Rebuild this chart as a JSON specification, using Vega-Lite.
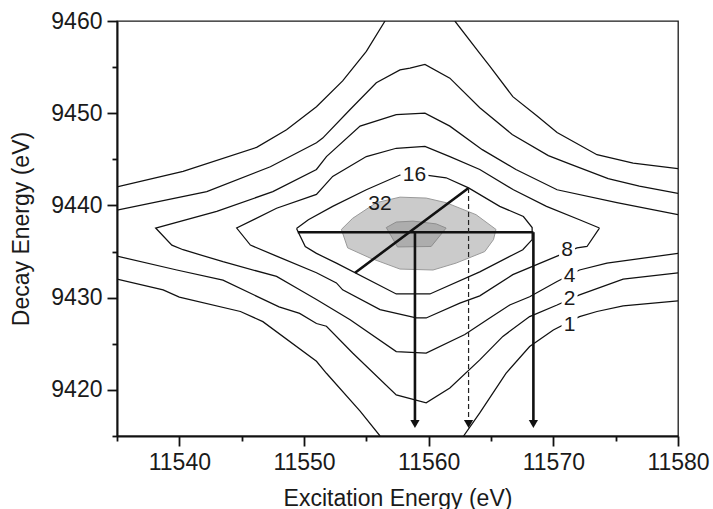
{
  "$schema": "https://vega.github.io/schema/vega-lite/v6.json",
  "width": 561,
  "height": 415,
  "autosize": {"type": "none"},
  "padding": {"left": 117, "top": 21, "right": 35, "bottom": 73},
  "background": "white",
  "config": {"view": {"stroke": "#1a1a1a", "strokeWidth": 1.3}, "font": "Liberation Sans"},
  "datasets": {
    "fills": [
      {"c": "32", "o": 0, "x": 11553.0, "y": 9437.4},
      {"c": "32", "o": 1, "x": 11553.9, "y": 9438.6},
      {"c": "32", "o": 2, "x": 11555.8, "y": 9440.3},
      {"c": "32", "o": 3, "x": 11557.7, "y": 9440.9},
      {"c": "32", "o": 4, "x": 11559.8, "y": 9440.8},
      {"c": "32", "o": 5, "x": 11561.4, "y": 9440.3},
      {"c": "32", "o": 6, "x": 11563.8, "y": 9439.0},
      {"c": "32", "o": 7, "x": 11565.4, "y": 9437.4},
      {"c": "32", "o": 8, "x": 11565.2, "y": 9436.3},
      {"c": "32", "o": 9, "x": 11564.5, "y": 9435.0},
      {"c": "32", "o": 10, "x": 11562.2, "y": 9433.75},
      {"c": "32", "o": 11, "x": 11560.35, "y": 9433.0},
      {"c": "32", "o": 12, "x": 11557.7, "y": 9433.1},
      {"c": "32", "o": 13, "x": 11555.3, "y": 9434.3},
      {"c": "32", "o": 14, "x": 11553.5, "y": 9435.4},
      {"c": "64", "o": 0, "x": 11556.6, "y": 9437.6},
      {"c": "64", "o": 1, "x": 11557.4, "y": 9438.2},
      {"c": "64", "o": 2, "x": 11558.75, "y": 9438.3},
      {"c": "64", "o": 3, "x": 11560.6, "y": 9438.0},
      {"c": "64", "o": 4, "x": 11561.4, "y": 9437.55},
      {"c": "64", "o": 5, "x": 11560.2, "y": 9435.55},
      {"c": "64", "o": 6, "x": 11557.5, "y": 9435.5}
    ],
    "contours": [
      {"c": "1a", "o": 0, "x": 11535, "y": 9442.0},
      {"c": "1a", "o": 1, "x": 11540.3, "y": 9443.7},
      {"c": "1a", "o": 2, "x": 11546.2, "y": 9446.3},
      {"c": "1a", "o": 3, "x": 11548.6, "y": 9448.2},
      {"c": "1a", "o": 4, "x": 11551.0, "y": 9450.7},
      {"c": "1a", "o": 5, "x": 11553.1, "y": 9453.5},
      {"c": "1a", "o": 6, "x": 11555.0, "y": 9456.7},
      {"c": "1a", "o": 7, "x": 11556.5, "y": 9460},
      {"c": "1b", "o": 0, "x": 11562.1, "y": 9460},
      {"c": "1b", "o": 1, "x": 11564.1, "y": 9456.5},
      {"c": "1b", "o": 2, "x": 11564.9, "y": 9455.1},
      {"c": "1b", "o": 3, "x": 11566.75, "y": 9451.8},
      {"c": "1b", "o": 4, "x": 11568.7, "y": 9449.7},
      {"c": "1b", "o": 5, "x": 11570.3, "y": 9447.9},
      {"c": "1b", "o": 6, "x": 11573.5, "y": 9445.5},
      {"c": "1b", "o": 7, "x": 11576.4, "y": 9444.6},
      {"c": "1b", "o": 8, "x": 11580, "y": 9444.0},
      {"c": "1c", "o": 0, "x": 11535, "y": 9432.0},
      {"c": "1c", "o": 1, "x": 11538.7, "y": 9430.85},
      {"c": "1c", "o": 2, "x": 11540.0, "y": 9430.06},
      {"c": "1c", "o": 3, "x": 11544.9, "y": 9428.5},
      {"c": "1c", "o": 4, "x": 11546.7, "y": 9427.4},
      {"c": "1c", "o": 5, "x": 11551.0, "y": 9423.1},
      {"c": "1c", "o": 6, "x": 11551.8, "y": 9421.8},
      {"c": "1c", "o": 7, "x": 11554.5, "y": 9417.7},
      {"c": "1c", "o": 8, "x": 11556.1, "y": 9415},
      {"c": "1d", "o": 0, "x": 11562.8, "y": 9415},
      {"c": "1d", "o": 1, "x": 11564.1, "y": 9417.5},
      {"c": "1d", "o": 2, "x": 11566.2, "y": 9421.8},
      {"c": "1d", "o": 3, "x": 11568.1, "y": 9424.7},
      {"c": "1d", "o": 4, "x": 11570.0, "y": 9426.5},
      {"c": "1d", "o": 5, "x": 11572.1, "y": 9427.95},
      {"c": "1d", "o": 6, "x": 11573.5, "y": 9428.5},
      {"c": "1d", "o": 7, "x": 11575.6, "y": 9429.1},
      {"c": "1d", "o": 8, "x": 11580, "y": 9429.65},
      {"c": "2a", "o": 0, "x": 11535, "y": 9439.5},
      {"c": "2a", "o": 1, "x": 11542.2, "y": 9441.5},
      {"c": "2a", "o": 2, "x": 11547.3, "y": 9444.2},
      {"c": "2a", "o": 3, "x": 11551.0, "y": 9446.8},
      {"c": "2a", "o": 4, "x": 11551.5, "y": 9447.3},
      {"c": "2a", "o": 5, "x": 11553.7, "y": 9450.4},
      {"c": "2a", "o": 6, "x": 11555.8, "y": 9453.3},
      {"c": "2a", "o": 7, "x": 11557.7, "y": 9454.7},
      {"c": "2a", "o": 8, "x": 11558.5, "y": 9454.9},
      {"c": "2a", "o": 9, "x": 11559.7, "y": 9455.3},
      {"c": "2a", "o": 10, "x": 11561.7, "y": 9453.8},
      {"c": "2a", "o": 11, "x": 11564.1, "y": 9450.6},
      {"c": "2a", "o": 12, "x": 11566.7, "y": 9447.7},
      {"c": "2a", "o": 13, "x": 11569.6, "y": 9445.4},
      {"c": "2a", "o": 14, "x": 11571.3, "y": 9444.5},
      {"c": "2a", "o": 15, "x": 11574.4, "y": 9442.9},
      {"c": "2a", "o": 16, "x": 11576.9, "y": 9442.1},
      {"c": "2a", "o": 17, "x": 11580, "y": 9441.3},
      {"c": "2b", "o": 0, "x": 11535, "y": 9434.5},
      {"c": "2b", "o": 1, "x": 11539.8, "y": 9433.0},
      {"c": "2b", "o": 2, "x": 11543.5, "y": 9431.9},
      {"c": "2b", "o": 3, "x": 11548.0, "y": 9429.0},
      {"c": "2b", "o": 4, "x": 11549.65, "y": 9428.3},
      {"c": "2b", "o": 5, "x": 11551.0, "y": 9427.2},
      {"c": "2b", "o": 6, "x": 11551.8, "y": 9426.9},
      {"c": "2b", "o": 7, "x": 11553.9, "y": 9424.0},
      {"c": "2b", "o": 8, "x": 11557.4, "y": 9419.45},
      {"c": "2b", "o": 9, "x": 11559.8, "y": 9418.6},
      {"c": "2b", "o": 10, "x": 11561.7, "y": 9420.2},
      {"c": "2b", "o": 11, "x": 11564.1, "y": 9423.25},
      {"c": "2b", "o": 12, "x": 11565.95, "y": 9425.8},
      {"c": "2b", "o": 13, "x": 11568.1, "y": 9427.95},
      {"c": "2b", "o": 14, "x": 11570.3, "y": 9429.2},
      {"c": "2b", "o": 15, "x": 11572.1, "y": 9430.3},
      {"c": "2b", "o": 16, "x": 11575.6, "y": 9432.0},
      {"c": "2b", "o": 17, "x": 11580, "y": 9432.7},
      {"c": "4", "o": 0, "x": 11580, "y": 9439.0},
      {"c": "4", "o": 1, "x": 11575.1, "y": 9440.3},
      {"c": "4", "o": 2, "x": 11570.3, "y": 9441.7},
      {"c": "4", "o": 3, "x": 11567.0, "y": 9443.9},
      {"c": "4", "o": 4, "x": 11564.3, "y": 9446.05},
      {"c": "4", "o": 5, "x": 11561.7, "y": 9448.6},
      {"c": "4", "o": 6, "x": 11559.7, "y": 9450.0},
      {"c": "4", "o": 7, "x": 11557.4, "y": 9449.85},
      {"c": "4", "o": 8, "x": 11554.5, "y": 9448.6},
      {"c": "4", "o": 9, "x": 11551.8, "y": 9445.3},
      {"c": "4", "o": 10, "x": 11551.0, "y": 9443.9},
      {"c": "4", "o": 11, "x": 11547.5, "y": 9441.5},
      {"c": "4", "o": 12, "x": 11543.0, "y": 9439.35},
      {"c": "4", "o": 13, "x": 11538.1, "y": 9437.55},
      {"c": "4", "o": 14, "x": 11539.4, "y": 9435.7},
      {"c": "4", "o": 15, "x": 11540.3, "y": 9435.2},
      {"c": "4", "o": 16, "x": 11543.5, "y": 9433.9},
      {"c": "4", "o": 17, "x": 11547.8, "y": 9432.3},
      {"c": "4", "o": 18, "x": 11549.65, "y": 9430.85},
      {"c": "4", "o": 19, "x": 11551.0, "y": 9429.8},
      {"c": "4", "o": 20, "x": 11553.7, "y": 9427.6},
      {"c": "4", "o": 21, "x": 11557.4, "y": 9424.15},
      {"c": "4", "o": 22, "x": 11559.8, "y": 9424.0},
      {"c": "4", "o": 23, "x": 11562.9, "y": 9426.0},
      {"c": "4", "o": 24, "x": 11564.9, "y": 9427.8},
      {"c": "4", "o": 25, "x": 11566.5, "y": 9429.2},
      {"c": "4", "o": 26, "x": 11568.1, "y": 9430.1},
      {"c": "4", "o": 27, "x": 11570.3, "y": 9431.75},
      {"c": "4", "o": 28, "x": 11572.1, "y": 9433.0},
      {"c": "4", "o": 29, "x": 11574.3, "y": 9433.75},
      {"c": "4", "o": 30, "x": 11580, "y": 9434.8},
      {"c": "8", "o": 0, "x": 11573.7, "y": 9437.55},
      {"c": "8", "o": 1, "x": 11572.1, "y": 9438.45},
      {"c": "8", "o": 2, "x": 11569.45, "y": 9439.9},
      {"c": "8", "o": 3, "x": 11566.8, "y": 9441.7},
      {"c": "8", "o": 4, "x": 11564.1, "y": 9443.9},
      {"c": "8", "o": 5, "x": 11561.7, "y": 9445.3},
      {"c": "8", "o": 6, "x": 11559.7, "y": 9446.4},
      {"c": "8", "o": 7, "x": 11557.4, "y": 9446.2},
      {"c": "8", "o": 8, "x": 11555.0, "y": 9445.3},
      {"c": "8", "o": 9, "x": 11552.3, "y": 9443.15},
      {"c": "8", "o": 10, "x": 11551.0, "y": 9441.2},
      {"c": "8", "o": 11, "x": 11547.8, "y": 9439.7},
      {"c": "8", "o": 12, "x": 11544.6, "y": 9437.55},
      {"c": "8", "o": 13, "x": 11545.7, "y": 9435.7},
      {"c": "8", "o": 14, "x": 11547.8, "y": 9434.5},
      {"c": "8", "o": 15, "x": 11551.0, "y": 9432.7},
      {"c": "8", "o": 16, "x": 11552.6, "y": 9431.6},
      {"c": "8", "o": 17, "x": 11553.1, "y": 9430.85},
      {"c": "8", "o": 18, "x": 11556.1, "y": 9428.7},
      {"c": "8", "o": 19, "x": 11559.0, "y": 9427.8},
      {"c": "8", "o": 20, "x": 11559.8, "y": 9427.8},
      {"c": "8", "o": 21, "x": 11562.5, "y": 9429.4},
      {"c": "8", "o": 22, "x": 11564.1, "y": 9430.2},
      {"c": "8", "o": 23, "x": 11566.75, "y": 9432.5},
      {"c": "8", "o": 24, "x": 11570.3, "y": 9434.5},
      {"c": "8", "o": 25, "x": 11571.9, "y": 9435.4},
      {"c": "8", "o": 26, "x": 11572.7, "y": 9435.55},
      {"c": "8", "o": 27, "x": 11573.7, "y": 9437.55},
      {"c": "16", "o": 0, "x": 11549.4, "y": 9437.5},
      {"c": "16", "o": 1, "x": 11550.35, "y": 9438.45},
      {"c": "16", "o": 2, "x": 11552.3, "y": 9439.9},
      {"c": "16", "o": 3, "x": 11555.0, "y": 9441.7},
      {"c": "16", "o": 4, "x": 11557.7, "y": 9443.3},
      {"c": "16", "o": 5, "x": 11559.8, "y": 9443.3},
      {"c": "16", "o": 6, "x": 11561.4, "y": 9443.0},
      {"c": "16", "o": 7, "x": 11563.2, "y": 9441.9},
      {"c": "16", "o": 8, "x": 11565.7, "y": 9439.9},
      {"c": "16", "o": 9, "x": 11567.6, "y": 9438.8},
      {"c": "16", "o": 10, "x": 11568.3, "y": 9437.6},
      {"c": "16", "o": 11, "x": 11568.3, "y": 9436.3},
      {"c": "16", "o": 12, "x": 11567.55, "y": 9435.2},
      {"c": "16", "o": 13, "x": 11564.1, "y": 9432.8},
      {"c": "16", "o": 14, "x": 11560.1, "y": 9430.4},
      {"c": "16", "o": 15, "x": 11557.4, "y": 9430.4},
      {"c": "16", "o": 16, "x": 11552.6, "y": 9433.75},
      {"c": "16", "o": 17, "x": 11551.0, "y": 9434.8},
      {"c": "16", "o": 18, "x": 11550.1, "y": 9435.55},
      {"c": "16", "o": 19, "x": 11549.4, "y": 9437.5}
    ],
    "annot": [
      {"s": "h", "o": 0, "x": 11549.5, "y": 9437.1},
      {"s": "h", "o": 1, "x": 11568.4, "y": 9437.1},
      {"s": "d", "o": 0, "x": 11554.1, "y": 9432.7},
      {"s": "d", "o": 1, "x": 11563.2, "y": 9441.9},
      {"s": "v1", "o": 0, "x": 11558.9, "y": 9437.1},
      {"s": "v1", "o": 1, "x": 11558.9, "y": 9416.4},
      {"s": "v2", "o": 0, "x": 11568.4, "y": 9437.1},
      {"s": "v2", "o": 1, "x": 11568.4, "y": 9416.4}
    ],
    "dashed": [
      {"s": "v3", "o": 0, "x": 11563.2, "y": 9441.9},
      {"s": "v3", "o": 1, "x": 11563.2, "y": 9416.4}
    ],
    "arrows": [
      {"x": 11558.9, "y": 9416.3},
      {"x": 11563.2, "y": 9416.3},
      {"x": 11568.4, "y": 9416.3}
    ],
    "labels": [
      {"t": "16", "x": 11558.86, "y": 9443.28, "bg": "wide"},
      {"t": "32", "x": 11556.1, "y": 9440.2, "bg": "none"},
      {"t": "8", "x": 11571.1, "y": 9435.2, "bg": "narrow"},
      {"t": "4", "x": 11571.3, "y": 9432.4, "bg": "narrow"},
      {"t": "2", "x": 11571.3, "y": 9429.85, "bg": "narrow"},
      {"t": "1", "x": 11571.3, "y": 9427.05, "bg": "narrow"}
    ]
  },
  "encoding": {
    "x": {
      "field": "x", "type": "quantitative",
      "scale": {"domain": [11535, 11580], "nice": false, "zero": false},
      "title": "Excitation Energy (eV)",
      "axis": {
        "values": [11535, 11540, 11545, 11550, 11555, 11560, 11565, 11570, 11575, 11580],
        "format": "d",
        "labelExpr": "datum.value % 10 === 0 ? datum.label : ''",
        "tickSize": {"condition": {"test": "datum.value % 10 === 0", "value": 10}, "value": 5},
        "tickColor": "#111", "tickWidth": 1.8,
        "domainColor": "#111", "domainWidth": 2,
        "labelFont": "Liberation Sans", "labelFontSize": 23, "labelColor": "#1a1a1a",
        "labelPadding": 5, "labelFlush": false, "labelOverlap": false, "grid": false,
        "titleFont": "Liberation Sans", "titleFontSize": 23, "titleFontWeight": "normal",
        "titleColor": "#1a1a1a", "titlePadding": 13
      }
    },
    "y": {
      "field": "y", "type": "quantitative",
      "scale": {"domain": [9415, 9460], "nice": false, "zero": false},
      "title": "Decay Energy (eV)",
      "axis": {
        "values": [9415, 9420, 9425, 9430, 9435, 9440, 9445, 9450, 9455, 9460],
        "format": "d",
        "labelExpr": "datum.value % 10 === 0 ? datum.label : ''",
        "tickSize": {"condition": {"test": "datum.value % 10 === 0", "value": 10}, "value": 5},
        "tickColor": "#111", "tickWidth": 1.8,
        "domainColor": "#111", "domainWidth": 2,
        "labelFont": "Liberation Sans", "labelFontSize": 23, "labelColor": "#1a1a1a",
        "labelPadding": 5, "labelFlush": false, "labelOverlap": false, "grid": false,
        "titleFont": "Liberation Sans", "titleFontSize": 23, "titleFontWeight": "normal",
        "titleColor": "#1a1a1a", "titlePadding": 17
      }
    }
  },
  "layer": [
    {
      "data": {"name": "fills"},
      "transform": [{"filter": "datum.c === '32'"}],
      "mark": {"type": "line", "interpolate": "linear-closed", "fill": "#cbcbcb", "stroke": "#9a9a9a", "strokeWidth": 1},
      "encoding": {"order": {"field": "o", "type": "quantitative"}}
    },
    {
      "data": {"name": "fills"},
      "transform": [{"filter": "datum.c === '64'"}],
      "mark": {"type": "line", "interpolate": "linear-closed", "fill": "#adadad", "stroke": "#8e8e8e", "strokeWidth": 1},
      "encoding": {"order": {"field": "o", "type": "quantitative"}}
    },
    {
      "data": {"name": "contours"},
      "mark": {"type": "line", "color": "#111", "strokeWidth": 1.25, "clip": true},
      "encoding": {
        "detail": {"field": "c", "type": "nominal"},
        "order": {"field": "o", "type": "quantitative"}
      }
    },
    {
      "data": {"name": "labels"},
      "transform": [{"filter": "datum.bg === 'wide'"}],
      "mark": {"type": "point", "shape": "M-1,-0.6L1,-0.6L1,0.6L-1,0.6Z", "size": 784, "filled": true, "fill": "white", "opacity": 1, "strokeWidth": 0}
    },
    {
      "data": {"name": "labels"},
      "transform": [{"filter": "datum.bg === 'narrow'"}],
      "mark": {"type": "point", "shape": "M-1,-1L1,-1L1,1L-1,1Z", "size": 256, "filled": true, "fill": "white", "opacity": 1, "strokeWidth": 0}
    },
    {
      "data": {"name": "annot"},
      "mark": {"type": "line", "color": "#111", "strokeWidth": 2.6},
      "encoding": {
        "detail": {"field": "s", "type": "nominal"},
        "order": {"field": "o", "type": "quantitative"}
      }
    },
    {
      "data": {"name": "dashed"},
      "mark": {"type": "line", "color": "#222", "strokeWidth": 1.2, "strokeDash": [5, 3]},
      "encoding": {
        "detail": {"field": "s", "type": "nominal"},
        "order": {"field": "o", "type": "quantitative"}
      }
    },
    {
      "data": {"name": "arrows"},
      "mark": {"type": "point", "shape": "triangle-down", "size": 85, "filled": true, "color": "#111", "opacity": 1}
    },
    {
      "data": {"name": "labels"},
      "mark": {"type": "text", "font": "Liberation Sans", "fontSize": 21, "color": "#1a1a1a", "align": "center", "baseline": "middle"},
      "encoding": {"text": {"field": "t", "type": "nominal"}}
    }
  ]
}
